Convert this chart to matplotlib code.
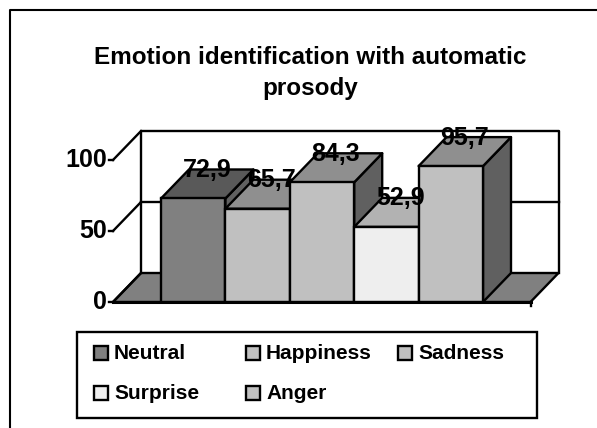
import matplotlib
matplotlib.use("Agg")
import matplotlib.pyplot as plt
from matplotlib.patches import Polygon, Rectangle

plt.rcParams['font.family'] = ['Liberation Sans', 'DejaVu Sans']

categories = ["Neutral", "Happiness", "Sadness", "Surprise", "Anger"]
values = [72.9, 65.7, 84.3, 52.9, 95.7]
value_labels = ["72,9", "65,7", "84,3", "52,9", "95,7"]
yticks = [0, 50, 100]
title = "Emotion identification with automatic\nprosody"
front_colors = ["#808080", "#C0C0C0", "#C0C0C0", "#EEEEEE", "#C0C0C0"]
top_colors = ["#595959", "#8F8F8F", "#8F8F8F", "#B2B2B2", "#8F8F8F"]
side_colors = ["#606060", "#606060", "#606060", "#808080", "#606060"]

W, H = 597, 428
fig = plt.figure(figsize=(W / 100, H / 100), dpi=100, facecolor="white")
ax = fig.add_axes([0, 0, 1, 1])
ax.set_axis_off()

# data scale: bar edges -0.5..4.5 at px 161..483, y 0..100 at px 302..160
PXX = 64.4
PXY = 1.42
ax.set_xlim(-0.5 - 161 / PXX, -0.5 + (W - 161) / PXX)
ax.set_ylim(-(H - 302) / PXY, 302 / PXY)
DX = 28 / PXX
DY = 29 / PXY
X0 = -0.5 - 48 / PXX
X1 = 4.5 + 47.5 / PXX
lw = 1.7
k = dict(color="black", lw=lw, solid_capstyle="projecting", zorder=2)

# outer frame
fig.add_artist(plt.Line2D([10 / W, 10 / W, 1], [0, 1 - 10 / H, 1 - 10 / H], color="black", lw=1.5))

# floor
ax.add_patch(Polygon([(X0, 0), (X0 + DX, DY), (X1 + DX, DY), (X1, 0)], fc="#808080", ec="black", lw=lw, zorder=1))
# walls and grid
ax.plot([X0 + DX, X0 + DX, X1 + DX, X1 + DX], [DY, 100 + DY, 100 + DY, DY], **k)
for t in yticks:
    ax.plot([X0, X0 + DX], [t, t + DY], **k)
    ax.plot([X0 - 4 / PXX, X0], [t, t], **k)
    if t == 50:
        ax.plot([X0 + DX, X1 + DX], [t + DY, t + DY], **k)
    ax.text(X0 - 6 / PXX, t - 0.3, str(t), ha="right", va="center", fontsize=18, fontweight="bold", zorder=6)

# bars
z = 3
for i, v in enumerate(values):
    l, r = i - 0.5, i + 0.5
    ax.add_patch(Polygon([(r, 0), (r + DX, DY), (r + DX, v + DY), (r, v)], fc=side_colors[i], ec="black", lw=lw, joinstyle="round", zorder=z))
    ax.add_patch(Polygon([(l, v), (l + DX, v + DY), (r + DX, v + DY), (r, v)], fc=top_colors[i], ec="black", lw=lw, joinstyle="round", zorder=z))
    ax.bar(i, v, width=1, color=front_colors[i], edgecolor="black", linewidth=lw, zorder=z)
    z += 0.1
for i, v in enumerate(values):
    ax.text(i + DX / 2, v + DY - 0.4, value_labels[i], ha="center", va="center", fontsize=18, fontweight="bold", zorder=6)

# base line
ax.plot([X0, X1], [0, 0], color="black", lw=2.2, zorder=5)
ax.plot([X1, X1], [0, -4 / PXY], color="black", lw=lw, zorder=5)

fig.text(310 / W, 1 - 73 / H, title, ha="center", va="center", fontsize=17.5, fontweight="bold", linespacing=1.42)

# legend
fig.add_artist(Rectangle((77 / W, 1 - 418 / H), 460 / W, 86 / H, transform=fig.transFigure, fc="white", ec="black", lw=lw))
cols = [94, 246, 398]
rows = [353, 393]
for i, name in enumerate(categories):
    x = cols[i % 3]
    y = rows[i // 3]
    fig.add_artist(Rectangle((x / W, 1 - (y + 7) / H), 14 / W, 14 / H, transform=fig.transFigure, fc=front_colors[i], ec="black", lw=lw))
    fig.text((x + 20) / W, 1 - (y + 0.7) / H, name, ha="left", va="center", fontsize=15, fontweight="bold")

fig.savefig("out.png", dpi=100, facecolor="white")
